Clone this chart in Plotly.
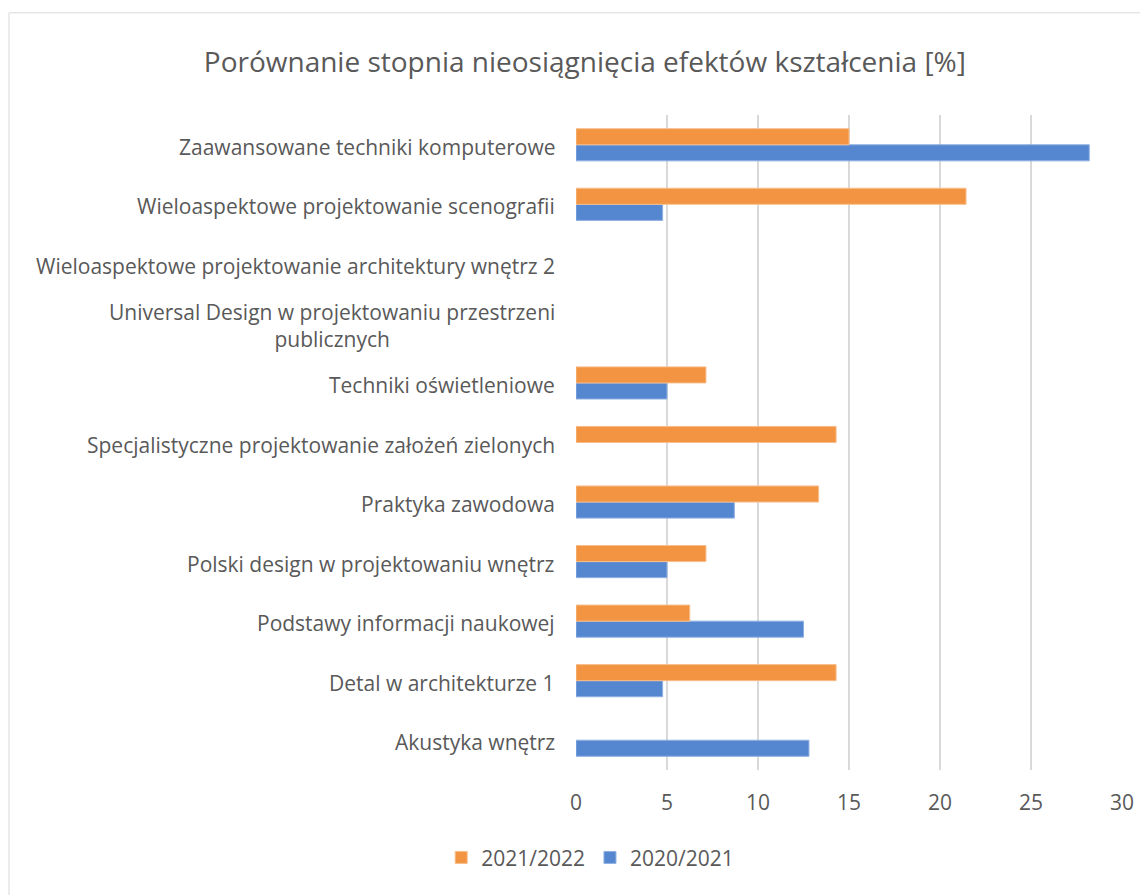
import plotly.graph_objects as go

categories = [
    "Akustyka wnętrz",
    "Detal w architekturze 1",
    "Podstawy informacji naukowej",
    "Polski design w projektowaniu wnętrz",
    "Praktyka zawodowa",
    "Specjalistyczne projektowanie założeń zielonych",
    "Techniki oświetleniowe",
    "Universal Design w projektowaniu przestrzeni<br>publicznych",
    "Wieloaspektowe projektowanie architektury wnętrz 2",
    "Wieloaspektowe projektowanie scenografii",
    "Zaawansowane techniki komputerowe",
]
y2021_2022 = [None, 14.29, 6.25, 7.14, 13.33, 14.29, 7.14, None, None, 21.43, 15.0]
y2020_2021 = [12.8, 4.76, 12.5, 5.0, 8.7, None, 5.0, None, None, 4.76, 28.2]
series_names = ["2021/2022", "2020/2021"]
x_ticks = [0, 5, 10, 15, 20, 25, 30]

FONT = "Open Sans"
GREY = "#595959"

fig = go.Figure()
fig.add_trace(go.Bar(y=categories, x=y2020_2021, name=series_names[1], orientation="h",
                     marker=dict(color="#5587D0", line=dict(color="#8FB0E2", width=1)), legendrank=2))
fig.add_trace(go.Bar(y=categories, x=y2021_2022, name=series_names[0], orientation="h",
                     marker=dict(color="#F29441", line=dict(color="#F7BE8C", width=1)), legendrank=1))

for c in categories:
    fig.add_annotation(x=0, xref="paper", y=c, yref="y", text=c, showarrow=False,
                       xanchor="right", align="center", xshift=-19, yshift=-2,
                       font=dict(family=FONT, size=21, color=GREY))

fig.add_shape(type="rect", xref="paper", yref="paper", x0=-1.0385, x1=1.08, y0=-0.25, y1=1.156,
              line=dict(color="#D9D9D9", width=1), fillcolor="rgba(0,0,0,0)", layer="below")

fig.update_layout(
    width=1140, height=887,
    paper_bgcolor="white", plot_bgcolor="white",
    margin=dict(l=568, r=26, t=107, b=125),
    barmode="group", bargap=0.46, bargroupgap=0,
    title=dict(text="Porównanie stopnia nieosiągnięcia efektów kształcenia [%]",
               x=0.506, xanchor="center", y=0.939, yanchor="middle",
               font=dict(family=FONT, size=28, color=GREY)),
    legend=dict(orientation="h", x=0.026, xanchor="center", y=-0.134, yanchor="middle",
                font=dict(family=FONT, size=21, color=GREY), traceorder="normal"),
    xaxis=dict(range=[0, 30], tickvals=x_ticks, showgrid=True, gridcolor="#D9D9D9", gridwidth=2,
               zeroline=False, showline=False, ticks="", ticklabelstandoff=18,
               tickfont=dict(family=FONT, size=21, color=GREY)),
    yaxis=dict(showticklabels=False, showgrid=False, zeroline=False, showline=False, ticks=""),
)

fig.write_html("out.html")
